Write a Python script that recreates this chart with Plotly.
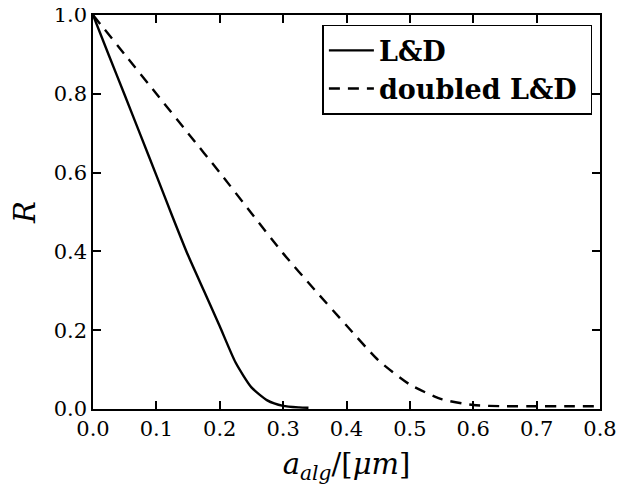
import plotly.graph_objects as go

# Data
x_ld = [0.0, 0.025, 0.05, 0.075, 0.1, 0.125, 0.15, 0.175, 0.2, 0.225, 0.25, 0.275, 0.3, 0.325, 0.34]
r_ld = [1.0, 0.898, 0.797, 0.695, 0.593, 0.49, 0.39, 0.30, 0.21, 0.118, 0.055, 0.022, 0.008, 0.004, 0.003]

x_dbl = [0.0, 0.05, 0.1, 0.15, 0.2, 0.25, 0.3, 0.35, 0.4, 0.45, 0.5, 0.55, 0.6, 0.65, 0.7, 0.75, 0.8]
r_dbl = [1.0, 0.9, 0.8, 0.7, 0.6, 0.497, 0.395, 0.302, 0.212, 0.124, 0.062, 0.025, 0.01, 0.007, 0.007, 0.007, 0.007]

x_ticks = [0.0, 0.1, 0.2, 0.3, 0.4, 0.5, 0.6, 0.7, 0.8]
y_ticks = [0.0, 0.2, 0.4, 0.6, 0.8, 1.0]

serif = "DejaVu Serif, serif"
tick_font = dict(family=serif, size=21, color="black")
title_font = dict(family=serif, size=29, color="black")

fig = go.Figure()
fig.add_trace(go.Scatter(x=x_ld, y=r_ld, mode="lines", name="<b>L&amp;D</b>",
                         line=dict(color="black", width=2.4, shape="spline", smoothing=0.6)))
fig.add_trace(go.Scatter(x=x_dbl, y=r_dbl, mode="lines", name="<b>doubled L&amp;D</b>&nbsp;",
                         line=dict(color="black", width=2.4, dash="11px,8px", shape="spline", smoothing=0.6)))

axis_style = dict(showline=True, linecolor="black", linewidth=1.5, mirror="ticks",
                  ticks="inside", ticklen=8, tickwidth=1.5, tickcolor="black",
                  showgrid=False, zeroline=False, automargin=False,
                  ticklabeloverflow="allow", tickfont=tick_font, tickformat=".1f")

fig.update_layout(
    template="none",
    width=624, height=492,
    margin=dict(l=85, r=32, t=7, b=91, autoexpand=False),
    paper_bgcolor="white", plot_bgcolor="white",
    font=dict(family=serif, size=21, color="black"),
    showlegend=True,
    xaxis=dict(range=[0, 0.8], tickvals=x_ticks,
               title=dict(text="<i>a</i><sub><i>alg</i></sub>/[<i>μm</i>]",
                          font=title_font, standoff=14),
               **axis_style),
    yaxis=dict(range=[0, 1.0], tickvals=y_ticks,
               title=dict(text="<i>R</i>", font=title_font, standoff=22),
               **axis_style),
    legend=dict(x=0.985, y=0.975, xanchor="right", yanchor="top",
                bgcolor="white", bordercolor="black", borderwidth=1.5,
                font=dict(family=serif, size=27, color="black"),
                itemwidth=45),
)

fig.write_html("out.html")
